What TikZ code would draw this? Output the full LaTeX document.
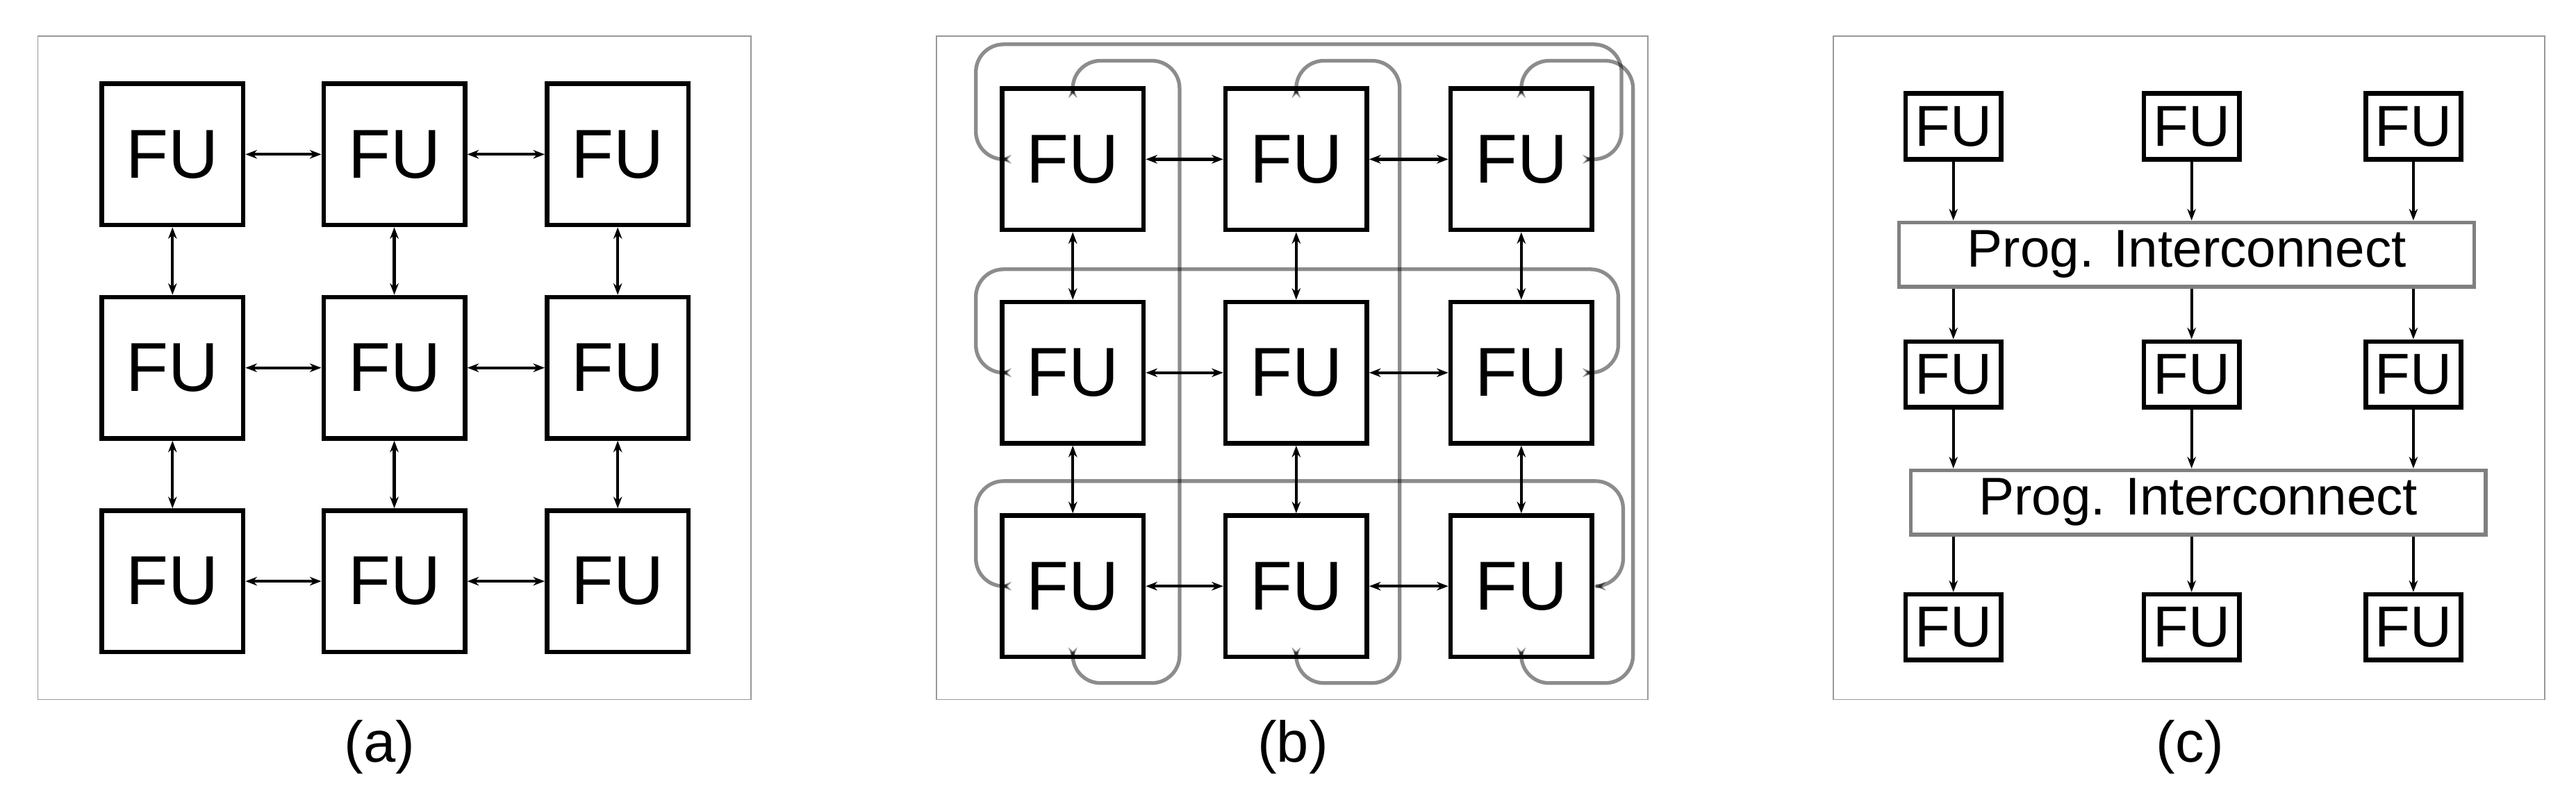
\documentclass[tikz,border=0pt]{standalone}
\usepackage{fontspec}
\setmainfont{Liberation Sans}
\usetikzlibrary{arrows.meta}
\begin{document}
\begin{tikzpicture}[x=0.025cm,y=-0.025cm,
  frame/.style={draw=black!40,line width=0.5pt},
  fu/.style={draw,line width=2pt,minimum width=2.15cm,minimum height=2.15cm,inner sep=0pt,font=\fontsize{30}{36}\selectfont},
  sfu/.style={draw,line width=2pt,minimum width=1.45cm,minimum height=1.0cm,inner sep=0pt,font=\fontsize{25}{30}\selectfont},
  ic/.style={draw=black!50,line width=1.6pt,minimum width=8.75cm,minimum height=0.98cm,inner sep=0pt,font=\fontsize{23}{28}\selectfont},
  bi/.style={line width=1.3pt,{Stealth[length=5pt]}-{Stealth[length=5pt]}},
  one/.style={line width=1.3pt,-{Stealth[length=5pt]}},
  wire/.style={draw=black,opacity=0.45,line width=1.6pt,rounded corners=12pt},
  lab/.style={font=\fontsize{25}{30}\selectfont}]
\useasboundingbox (0,0) rectangle (1568,484);
% frames
\draw[frame] (23,22) rectangle (457,426);
\draw[frame] (570,22) rectangle (1003,426);
\draw[frame] (1116,22) rectangle (1549,426);
\node[lab] (la) at (231,455) {(a)};
\node[lab] (lb) at (787,455) {(b)};
\node[lab] (lc) at (1333,455) {(c)};
% panel (a)
\foreach \c/\x in {1/105,2/240,3/376}{
  \foreach \r/\y in {1/94,2/224,3/354}{
    \node[fu] (a\c\r) at (\x,\y) {FU};
  }}
\foreach \r in {1,2,3}{
  \draw[bi] (a1\r) -- (a2\r); \draw[bi] (a2\r) -- (a3\r);}
\foreach \c in {1,2,3}{
  \draw[bi] (a\c1) -- (a\c2); \draw[bi] (a\c2) -- (a\c3);}
% panel (b)
\foreach \c/\x in {1/653,2/789,3/926}{
  \foreach \r/\y in {1/97,2/227,3/357}{
    \node[fu] (b\c\r) at (\x,\y) {FU};
  }}
\foreach \r in {1,2,3}{
  \draw[bi] (b1\r) -- (b2\r); \draw[bi] (b2\r) -- (b3\r);}
\foreach \c in {1,2,3}{
  \draw[bi] (b\c1) -- (b\c2); \draw[bi] (b\c2) -- (b\c3);}
% row wrap-around wires
\foreach \r/\t/\rx in {1/27/987,2/164/985,3/293/988}{
  \draw[wire,{Stealth[length=5pt]}-{Stealth[length=5pt]}]
    (b1\r.west) -- (594,0 |- b1\r.west) |- (800,\t) -| (\rx,0 |- b3\r.east) -- (b3\r.east);
}
% column wrap-around wires
\foreach \c/\rx in {1/718,2/852,3/994}{
  \draw[wire,{Stealth[length=5pt]}-{Stealth[length=5pt]}]
    (b\c1.north) |- (\rx,37) |- (b\c3.south |- 0,416) -- (b\c3.south);
}
% panel (c)
\foreach \c/\x in {1/1189,2/1334,3/1469}{
  \node[sfu] (c\c1) at (\x,77) {FU};
  \node[sfu] (c\c2) at (\x,228) {FU};
  \node[sfu] (c\c3) at (\x,382) {FU};
}
\node[ic] (ic1) at (1331,155) {Prog. Interconnect};
\node[ic] (ic2) at (1338,306) {Prog. Interconnect};
\foreach \c in {1,2,3}{
  \draw[one] (c\c1) -- (c\c1 |- ic1.north);
  \draw[one] (c\c2 |- ic1.south) -- (c\c2);
  \draw[one] (c\c2) -- (c\c2 |- ic2.north);
  \draw[one] (c\c3 |- ic2.south) -- (c\c3);
}
\end{tikzpicture}
\end{document}
